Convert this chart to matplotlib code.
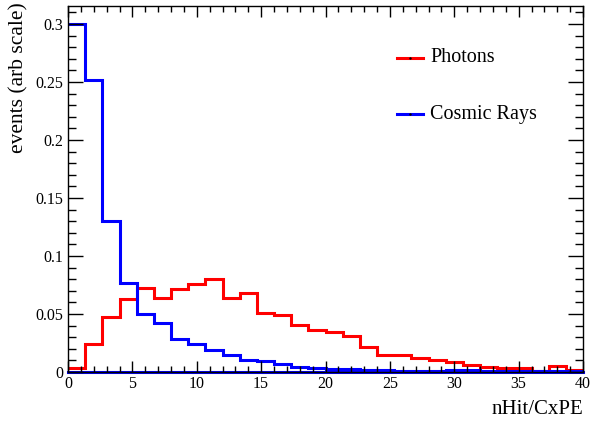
import numpy as np
import matplotlib.pyplot as plt
from matplotlib.ticker import MultipleLocator, FuncFormatter

plt.rcParams['font.family'] = ['Liberation Serif', 'DejaVu Serif']

# 30 bins from 0 to 40
edges = np.linspace(0, 40, 31)

photons = [0.0037, 0.0238, 0.047, 0.0627, 0.072, 0.064, 0.0713, 0.0756, 0.080, 0.064,
           0.068, 0.051, 0.049, 0.0405, 0.036, 0.0348, 0.031, 0.0218, 0.0150, 0.0145,
           0.0118, 0.0103, 0.0085, 0.0060, 0.0040, 0.0032, 0.0032, 0.0008, 0.0050, 0.0017]

cosmics = [0.300, 0.2514, 0.1304, 0.077, 0.0497, 0.042, 0.0282, 0.0239, 0.019, 0.0147,
           0.0103, 0.0095, 0.0066, 0.0046, 0.0032, 0.0026, 0.0023, 0.0020, 0.0017, 0.0012,
           0.0012, 0.0012, 0.0015, 0.0015, 0.0005, 0.0005, 0.0005, 0.0005, 0.0010, 0.0005]

fig = plt.figure(figsize=(5.9, 4.21), dpi=100)
ax = fig.add_axes([68/590, 1 - 372/421, (583 - 68)/590, (372 - 6)/421])

ax.axhline(0, color='blue', lw=2.2, clip_on=False, zorder=1)
ax.stairs(photons, edges, baseline=None, color='red', lw=2.2, label='Photons')
ax.stairs(cosmics, edges, baseline=None, color='blue', lw=2.2, label='Cosmic Rays')

ax.set_xlim(0, 40)
ax.set_ylim(0, 0.3155)

ax.xaxis.set_major_locator(MultipleLocator(5))
ax.xaxis.set_minor_locator(MultipleLocator(1))
ax.yaxis.set_major_locator(MultipleLocator(0.05))
ax.yaxis.set_minor_locator(MultipleLocator(0.01))
ax.yaxis.set_major_formatter(FuncFormatter(lambda v, p: '%g' % round(v, 3)))

ax.tick_params(axis='both', which='both', direction='in', top=True, right=True,
               width=1, labelsize=11.5, color='black')
ax.tick_params(axis='x', which='major', length=8, pad=3)
ax.tick_params(axis='x', which='minor', length=4)
ax.tick_params(axis='y', which='major', length=11, pad=3.5)
ax.tick_params(axis='y', which='minor', length=5.5)
for s in ax.spines.values():
    s.set_linewidth(1)

# legend entries drawn without a frame
leg_x = [397, 423]
for yy, c, name in [(58, 'red', 'Photons'), (114, 'blue', 'Cosmic Rays')]:
    fy = 1 - yy/421
    fig.add_artist(plt.Line2D([leg_x[0]/590, leg_x[1]/590], [fy, fy], color=c, lw=2.2,
                              transform=fig.transFigure))
    fig.add_artist(plt.Line2D([410/590], [fy], marker='.', color='black', ms=1.5,
                              transform=fig.transFigure))
    fig.text(430/590, fy, name, fontsize=14.5, va='center', ha='left')

fig.text(583/590, 1 - 410/421, 'nHit/CxPE', fontsize=15, ha='right', va='center')
fig.text(19/590, 1 - 2/421, 'events (arb scale)', fontsize=15.5, rotation=90,
         ha='center', va='top')

fig.savefig('out.png', dpi=100)
